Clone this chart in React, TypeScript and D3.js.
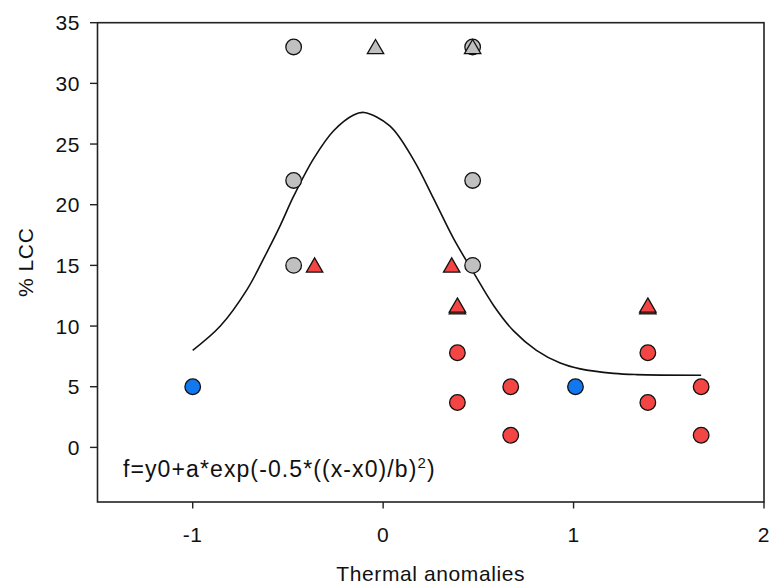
import React from "react";
import * as d3 from "d3";

// marker series
const grayCircleX = [-0.47, -0.47, -0.47, 0.47, 0.47, 0.47];
const grayCircleY = [33, 22, 15, 33, 22, 15];
const grayTriangleX = [-0.04, 0.47];
const grayTriangleY = [33, 33];
const redTriangleX = [-0.36, 0.36, 0.39, 0.39, 1.39, 1.39];
const redTriangleY = [15, 15, 11.55, 11.7, 11.55, 11.7];
const redCircleX = [0.39, 0.39, 0.67, 0.67, 1.39, 1.39, 1.67, 1.67];
const redCircleY = [7.8, 3.7, 5, 1, 7.8, 3.7, 5, 1];
const blueCircleX = [-1, 1.01];
const blueCircleY = [5, 5];

// fitted gaussian curve
const fitX = [-1.0, -0.855, -0.715, -0.61, -0.54, -0.47, -0.365, -0.26, -0.155, -0.1, 0.035, 0.16, 0.265, 0.37, 0.475, 0.58, 0.685, 0.805, 0.93, 1.035, 1.21, 1.33, 1.67];
const fitY = [8.0, 10.0, 13.0, 16.1, 18.3, 20.7, 23.8, 26.1, 27.4, 27.6, 26.5, 23.7, 20.5, 17.2, 14.4, 11.7, 9.6, 8.0, 6.95, 6.47, 6.1, 6.0, 5.95];

const xTicks = [-1, 0, 1, 2];
const yTicks = [0, 5, 10, 15, 20, 25, 30, 35];

const GRAY = "#c0c0c0";
const RED = "#f44545";
const BLUE = "#1278f0";
const FONT = "'Liberation Sans', Arial, sans-serif";

const zip = (xs: number[], ys: number[]) => xs.map((x, i) => ({ x, y: ys[i] }));

const App = () => {
  const width = 771;
  const height = 585;
  const left = 97.5;
  const right = 764;
  const top = 22.7;
  const bottom = 502;

  const x = d3.scaleLinear().domain([-1.5, 2]).range([left, right]);
  const y = d3.scaleLinear().domain([-4.5, 35]).range([bottom, top]);

  const line = d3
    .line<{ x: number; y: number }>()
    .x((d) => x(d.x))
    .y((d) => y(d.y))
    .curve(d3.curveCatmullRom.alpha(0.5));

  const tri = (cx: number, cy: number) =>
    `M${cx},${cy - 7.5}L${cx + 8.2},${cy + 6.7}L${cx - 8.2},${cy + 6.7}Z`;

  const circles = (pts: { x: number; y: number }[], fill: string, key: string) =>
    pts.map((d, i) => (
      <circle key={key + i} cx={x(d.x)} cy={y(d.y)} r={7.8} fill={fill} stroke="#111" strokeWidth={1.3} />
    ));
  const triangles = (pts: { x: number; y: number }[], fill: string, key: string) =>
    pts.map((d, i) => (
      <path key={key + i} d={tri(x(d.x), y(d.y))} fill={fill} stroke="#111" strokeWidth={1.3} strokeLinejoin="miter" />
    ));

  return (
    <svg width={width} height={height} style={{ position: "absolute", left: 0, top: 0 }} fontFamily={FONT}>
      <rect width={width} height={height} fill="#fff" />
      <path d={line(zip(fitX, fitY)) || ""} fill="none" stroke="#111" strokeWidth={1.6} />

      {circles(zip(grayCircleX, grayCircleY), GRAY, "gc")}
      {triangles(zip(grayTriangleX, grayTriangleY), GRAY, "gt")}
      {triangles(zip(redTriangleX, redTriangleY), RED, "rt")}
      {circles(zip(redCircleX, redCircleY), RED, "rc")}
      {circles(zip(blueCircleX, blueCircleY), BLUE, "bc")}

      {/* frame */}
      <rect x={left} y={top} width={right - left} height={bottom - top} fill="none" stroke="#222" strokeWidth={1.6} />

      {yTicks.map((t) => (
        <g key={"y" + t}>
          <line x1={left - 7.5} x2={left} y1={y(t)} y2={y(t)} stroke="#222" strokeWidth={1.4} />
          <text x={80} y={y(t)} dy="0.36em" textAnchor="end" fontSize={21} fill="#111" style={{ letterSpacing: "0.6px" }}>
            {t}
          </text>
        </g>
      ))}
      {xTicks.map((t) => (
        <g key={"x" + t}>
          <line x1={x(t)} x2={x(t)} y1={bottom} y2={bottom + 6.5} stroke="#222" strokeWidth={1.4} />
          <text x={x(t)} y={542} textAnchor="middle" fontSize={21} fill="#111" style={{ letterSpacing: "0.6px" }}>
            {t}
          </text>
        </g>
      ))}

      <text x={(left + right) / 2} y={580.5} textAnchor="middle" fontSize={21} fill="#111" style={{ letterSpacing: "0.6px" }}>
        Thermal anomalies
      </text>
      <text
        transform={`translate(33,${(top + bottom) / 2}) rotate(-90)`}
        textAnchor="middle"
        fontSize={21}
        fill="#111"
        style={{ letterSpacing: "0.6px" }}
      >
        % LCC
      </text>

      <text x={123} y={477} fontSize={23} fill="#111" style={{ letterSpacing: "1.1px" }}>
        f=y0+a*exp(-0.5*((x-x0)/b)
        <tspan dy={-9} fontSize={15}>2</tspan>
        <tspan dy={9}>)</tspan>
      </text>
    </svg>
  );
};

export default App;
